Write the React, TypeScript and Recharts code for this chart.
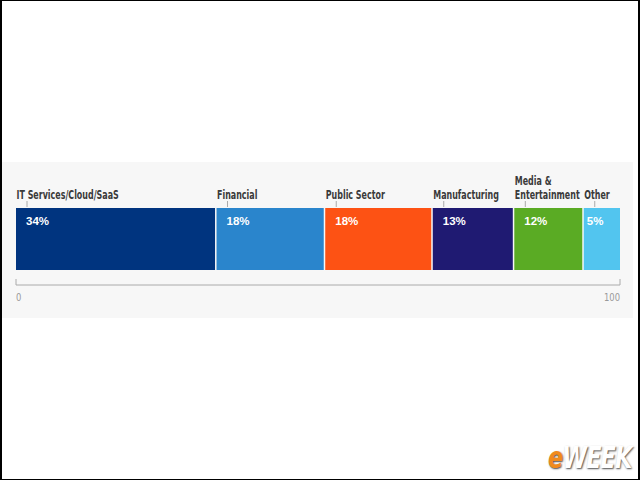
import { BarChart, Bar, XAxis, YAxis, LabelList } from 'recharts'

const categories = ['IT Services/Cloud/SaaS', 'Financial', 'Public Sector', 'Manufacturing', 'Media &\nEntertainment', 'Other']
const shares = [33.2, 18.0, 17.8, 13.5, 11.5, 6.0]
const shareLabels = ['34%', '18%', '18%', '13%', '12%', '5%']
const axisTicks = [0, 100]

const COLORS = ['#00347f', '#2a85cc', '#fd5214', '#1f1a72', '#5aab24', '#52c5ef']
const KEYS = categories.map((_, i) => `s${i}`)

const row: { [key: string]: string | number } = { name: 'industry' }
KEYS.forEach((k, i) => {
  row[k] = shares[i]
})
const data = [row]

const NARROW = '"Liberation Sans Narrow", "DejaVu Sans Condensed", Arial, sans-serif'

function SegmentShape(props: any) {
  const { x, y, width, height, fill, last } = props
  const w = last ? width : Math.max(0, width - 1.5)
  return <rect x={x} y={y} width={w} height={height} fill={fill} />
}

function makeLabel(index: number) {
  return (props: any) => {
    const { x, y, width } = props
    const lines = categories[index].split('\n')
    const pctOffset = width < 45 ? 3 : 10
    return (
      <g>
        {lines.map((line, li) => (
          <g key={li} transform={`translate(${x + 0.5}, ${y - 9.5 - (lines.length - 1 - li) * 14}) scale(0.68, 1)`}>
            <text x={0} y={0} fontFamily={NARROW} fontWeight="bold" fontSize={13} fill="#3a3a3a">
              {line}
            </text>
          </g>
        ))}
        <line x1={x + 11} x2={x + 11} y1={y - 7} y2={y - 1} stroke="#aaa" strokeWidth={1} />
        <text
          x={x + pctOffset}
          y={y + 17}
          fontFamily="'Liberation Sans', Arial, sans-serif"
          fontWeight="bold"
          fontSize={11.5}
          fill="#fff"
        >
          {shareLabels[index]}
        </text>
      </g>
    )
  }
}

function AxisTick(props: any) {
  const { x, y, payload } = props
  const first = payload.value === axisTicks[0]
  return (
    <g>
      <line x1={x} x2={x} y1={y - 6} y2={y} stroke="#aaa" strokeWidth={1} />
      <g transform={`translate(${x}, ${y + 15.5}) scale(0.85, 1)`}>
        <text x={0} y={0} textAnchor={first ? 'start' : 'end'} fontFamily={NARROW} fontSize={11} fill="#999">
          {payload.value}
        </text>
      </g>
    </g>
  )
}

export default function App() {
  return (
    <div
      style={{
        position: 'absolute',
        left: 0,
        top: 0,
        width: 640,
        height: 480,
        background: '#fff',
        overflow: 'hidden',
      }}
    >
      {/* light panel behind the chart */}
      <div style={{ position: 'absolute', left: 2, top: 162, width: 631, height: 156, background: '#f7f7f7' }} />

      <div style={{ position: 'absolute', left: 0, top: 0 }}>
        <BarChart
          width={640}
          height={480}
          data={data}
          layout="vertical"
          margin={{ top: 208, right: 20, left: 16, bottom: 165 }}
          barCategoryGap={0}
        >
          <XAxis
            type="number"
            domain={[0, 100]}
            ticks={axisTicks}
            interval={0}
            stroke="#aaa"
            tickLine={false}
            tickSize={0}
            tickMargin={0}
            height={30}
            tick={<AxisTick />}
          />
          <YAxis type="category" dataKey="name" hide width={0} padding={{ top: 0, bottom: 15 }} />
          {KEYS.map((k, i) => (
            <Bar
              key={k}
              dataKey={k}
              stackId="s"
              fill={COLORS[i]}
              isAnimationActive={false}
              shape={(p: any) => <SegmentShape {...p} last={i === KEYS.length - 1} />}
            >
              <LabelList dataKey={k} content={makeLabel(i)} />
            </Bar>
          ))}
        </BarChart>
      </div>

      {/* eWEEK watermark */}
      <div
        style={{
          position: 'absolute',
          left: 548,
          top: 439,
          fontFamily: NARROW,
          fontStyle: 'italic',
          fontWeight: 'bold',
          fontSize: 31,
          letterSpacing: -1,
          transform: 'scale(0.8, 1)',
          transformOrigin: 'left top',
          textShadow: '1px 1px 2px rgba(0,0,0,0.7)',
        }}
      >
        <span style={{ color: '#f08a1c' }}>e</span>
        <span style={{ color: '#fff' }}>WEEK</span>
      </div>

      {/* frame */}
      <div
        style={{
          position: 'absolute',
          left: 0,
          top: 0,
          width: 640,
          height: 480,
          boxSizing: 'border-box',
          borderStyle: 'solid',
          borderColor: '#000',
          borderWidth: '1px 2px 1px 2px',
          pointerEvents: 'none',
        }}
      />
    </div>
  )
}
